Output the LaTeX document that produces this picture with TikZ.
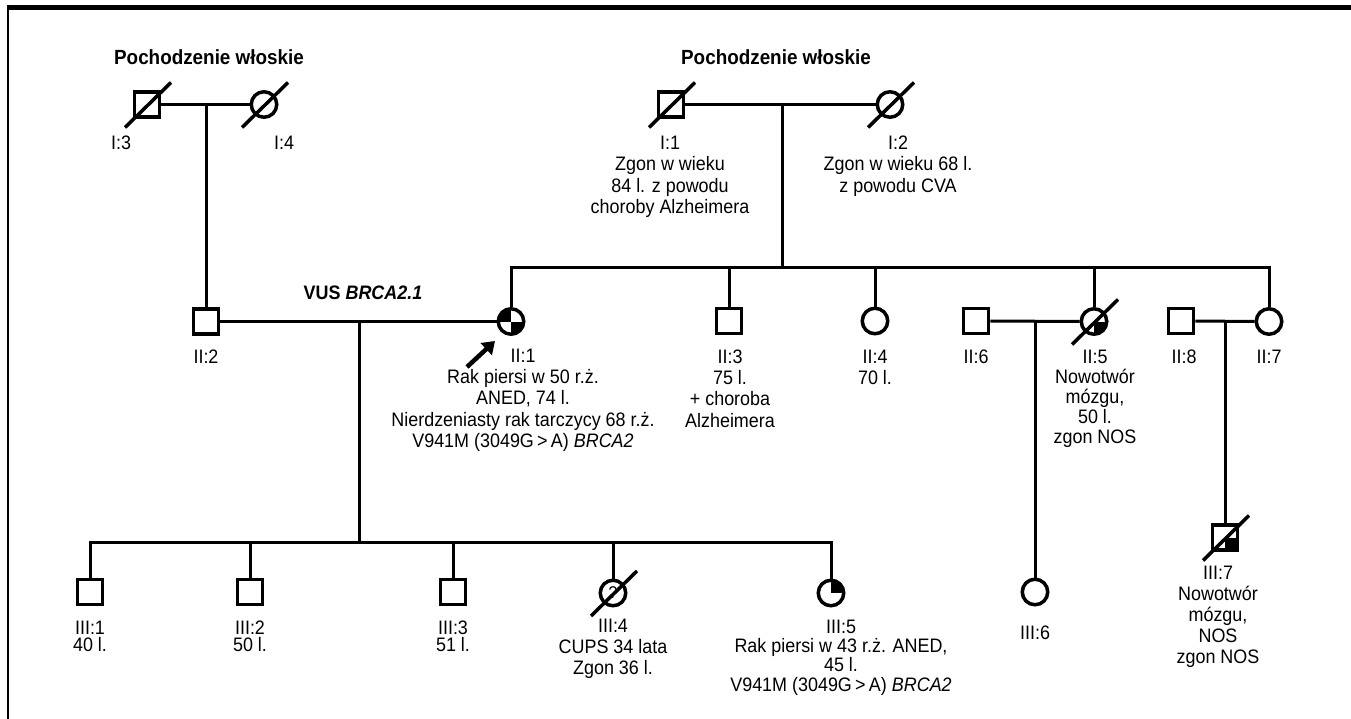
\documentclass[tikz,border=0pt]{standalone}
\usepackage{fontspec}
\setmainfont{Liberation Sans}[FakeStretch=0.92]
\usetikzlibrary{arrows.meta}
\begin{document}
\begin{tikzpicture}[x=1pt,y=-1pt,
  sq/.style={draw, line width=3.5pt, rectangle, minimum size=25pt, inner sep=0pt},
  ci/.style={draw, line width=3.5pt, circle, minimum size=25.5pt, inner sep=0pt},
  rel/.style={line width=3pt},
  slash/.style={line width=3.5pt},
  lbl/.style={anchor=north, align=center, inner sep=0pt, font=\fontsize{19.5}{#1}\selectfont},
  lbl/.default=20.5,
  ttl/.style={anchor=north, inner sep=0pt, font=\fontsize{20.5}{22}\selectfont\bfseries},
  qTR/.style={path picture={\fill (path picture bounding box.center) rectangle (path picture bounding box.north east);}},
  qBR/.style={path picture={\fill (path picture bounding box.center) rectangle (path picture bounding box.south east);}},
  qTLBR/.style={path picture={\fill (path picture bounding box.center) rectangle (path picture bounding box.north west);
                              \fill (path picture bounding box.center) rectangle (path picture bounding box.south east);}},
  proband/.style={line width=4.5pt, -{Triangle[length=12pt,width=16pt]}}
]
\useasboundingbox (0,0) rectangle (1351,719);
% frame
\draw[line width=4.5pt] (7,7.5) -- (1351,7.5);
\draw[line width=2pt] (8,7.5) -- (8,719);

% titles
\node[ttl] (t1) at (209,49.5) {Pochodzenie włoskie};
\node[ttl] (t2) at (776,49.5) {Pochodzenie włoskie};
\node[ttl, font=\fontsize{19.5}{22}\selectfont\bfseries] (vus) at (363,286) {VUS \textit{BRCA2.1}};

% generation I
\node[sq] (I3) at (147,104.5) {};
\node[ci] (I4) at (264,104.5) {};
\node[sq] (I1) at (671,104.5) {};
\node[ci] (I2) at (890,104.5) {};

% generation II
\node[sq] (II2) at (206,321.5) {};
\node[ci, qTLBR] (II1) at (511,321.5) {};
\node[sq] (II3) at (729,321) {};
\node[ci] (II4) at (875,321) {};
\node[sq] (II6) at (976,321) {};
\node[ci, qBR] (II5) at (1094,321.5) {};
\node[sq] (II8) at (1181,321) {};
\node[ci] (II7) at (1269,321.5) {};

% generation III
\node[sq] (III1) at (90,592) {};
\node[sq] (III2) at (250,592) {};
\node[sq] (III3) at (453,592) {};
\node[ci, font=\fontsize{17}{17}\selectfont] (III4) at (613,593) {?};
\node[ci, qTR] (III5) at (831,593) {};
\node[ci] (III6) at (1035,592) {};
\node[sq, qBR] (III7) at (1225,537.5) {};

% connectors
\coordinate (m34) at (206,104.5);
\draw[rel] (I3) -- (I4);
\draw[rel] (m34) -- (II2);

\coordinate (m12) at (782,104.5);
\coordinate (sL) at (511,268);
\coordinate (sR) at (1269,268);
\draw[rel] (I1) -- (I2);
\draw[rel] (m12) -- (m12 |- sL);
\draw[rel] (II1) -- (sL) -- (sR) -- (II7);
\draw[rel] (II3) -- (II3 |- sL);
\draw[rel] (II4) -- (II4 |- sL);
\draw[rel] (II5) -- (II5 |- sL);

\coordinate (m21) at (359,321.5);
\coordinate (tL) at (90,542);
\coordinate (tR) at (831,542);
\draw[rel] (II2) -- (II1);
\draw[rel] (m21) -- (m21 |- tL);
\draw[rel] (III1) -- (tL) -- (tR) -- (III5);
\draw[rel] (III2) -- (III2 |- tL);
\draw[rel] (III3) -- (III3 |- tL);
\draw[rel] (III4) -- (III4 |- tL);

\coordinate (m65) at (1035,321);
\draw[rel] (II6) -- (II5);
\draw[rel] (m65) -- (III6);

\coordinate (m87) at (1225,321);
\draw[rel] (II8) -- (II7);
\draw[rel] (m87) -- (III7);

% deceased slashes
\foreach \n in {I3,I4,I1,I2,II5,III4,III7}
  \draw[slash] ([shift={(-22,23)}]\n.center) -- ([shift={(24,-22)}]\n.center);

% proband arrow
\coordinate (arT) at (467,367);
\coordinate (arH) at (495,341);
\draw[proband] (arT) -- (arH);

% labels
\node[lbl] (lI3) at (121,135.5) {I:3};
\node[lbl] (lI4) at (284,135.5) {I:4};
\node[lbl=21.5] (lI1) at (670,135.5) {I:1\\Zgon w wieku\\84 l. z powodu\\choroby Alzheimera};
\node[lbl=21.5] (lI2) at (898,135.5) {I:2\\Zgon w wieku 68 l.\\z powodu CVA};

\node[lbl] (lII2) at (206,349.5) {II:2};
\node[lbl=21.3] (lII1) at (523,348.5) {II:1\\Rak piersi w 50 r.ż.\\ANED, 74 l.\\Nierdzeniasty rak tarczycy 68 r.ż.\\V941M (3049G\,>\,A) \textit{BRCA2}};
\node[lbl=21.3] (lII3) at (730,349.5) {II:3\\75 l.\\+ choroba\\Alzheimera};
\node[lbl=21.3] (lII4) at (875,349.5) {II:4\\70 l.};
\node[lbl] (lII6) at (976,349.5) {II:6};
\node[lbl=20.2] (lII5) at (1095,349.5) {II:5\\Nowotwór\\mózgu,\\50 l.\\zgon NOS};
\node[lbl] (lII8) at (1184,349.5) {II:8};
\node[lbl] (lII7) at (1269,349.5) {II:7};

\node[lbl=17.5] (lIII1) at (90,620.5) {III:1\\40 l.};
\node[lbl=17.5] (lIII2) at (250,620.5) {III:2\\50 l.};
\node[lbl=17.5] (lIII3) at (453,620.5) {III:3\\51 l.};
\node[lbl=21.3] (lIII4) at (613,618.5) {III:4\\CUPS 34 lata\\Zgon 36 l.};
\node[lbl=19.3] (lIII5) at (841,619.5) {III:5\\Rak piersi w 43 r.ż. ANED,\\45 l.\\V941M (3049G\,>\,A) \textit{BRCA2}};
\node[lbl] (lIII6) at (1035,625.5) {III:6};
\node[lbl=21] (lIII7) at (1218,565.5) {III:7\\Nowotwór\\mózgu,\\NOS\\zgon NOS};
\end{tikzpicture}
\end{document}
